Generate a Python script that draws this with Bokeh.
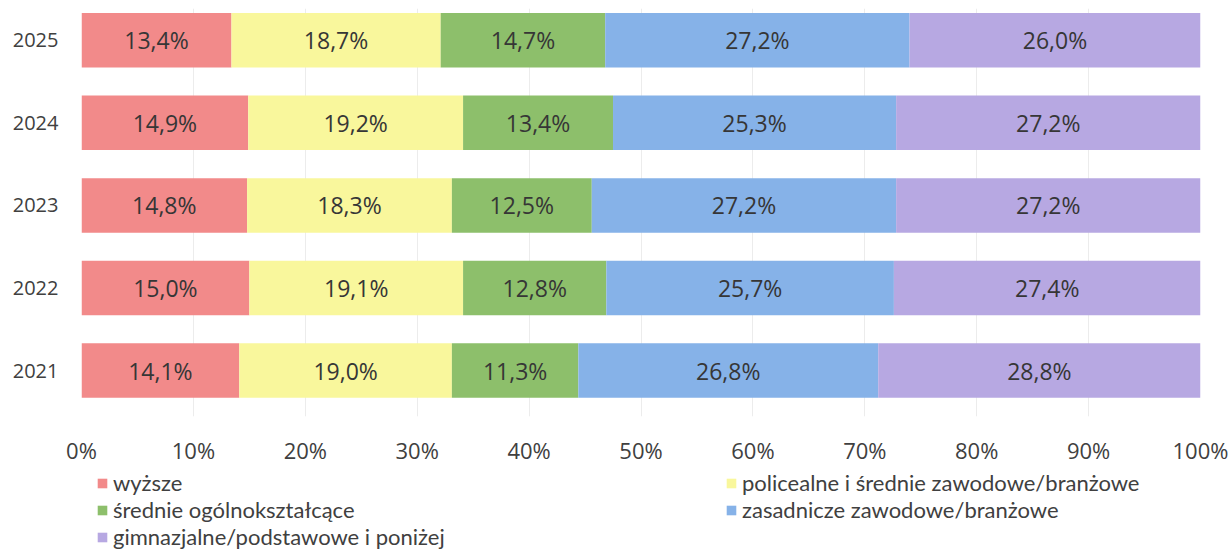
from bokeh.plotting import figure
from bokeh.models import ColumnDataSource, Range1d, FixedTicker, Legend, LegendItem, LabelSet
from bokeh.layouts import column
from bokeh.core.properties import value
from bokeh.embed import file_html
from bokeh.resources import INLINE

years = ["2021", "2022", "2023", "2024", "2025"]
categories = ["wyższe", "policealne i średnie zawodowe/branżowe", "średnie ogólnokształcące",
              "zasadnicze zawodowe/branżowe", "gimnazjalne/podstawowe i poniżej"]
wyzsze = [14.1, 15.0, 14.8, 14.9, 13.4]
policealne = [19.0, 19.1, 18.3, 19.2, 18.7]
srednie = [11.3, 12.8, 12.5, 13.4, 14.7]
zasadnicze = [26.8, 25.7, 27.2, 25.3, 27.2]
gimnazjalne = [28.8, 27.4, 27.2, 27.2, 26.0]
x_ticks = [0, 10, 20, 30, 40, 50, 60, 70, 80, 90, 100]

series = [wyzsze, policealne, srednie, zasadnicze, gimnazjalne]
colors = ["#F28A8A", "#F9F79C", "#8DBF6B", "#86B2E8", "#B7A8E2"]

FONT = "Open Sans"
LEG_FONT = "Lato"
TXT = "#404040"

p = figure(width=1229, height=467, output_backend="svg", toolbar_location=None,
           x_range=Range1d(0, 100), y_range=Range1d(-0.557, 4.385),
           min_border_left=81, min_border_right=29, min_border_top=8, min_border_bottom=42)
p.outline_line_color = None
p.background_fill_color = "white"

ypos = list(range(len(years)))
left = [0.0] * len(years)
for vals, col, name in zip(series, colors, categories):
    right = [l + v for l, v in zip(left, vals)]
    src = ColumnDataSource(dict(y=ypos, left=left, right=right,
                                mid=[(l + r) / 2 for l, r in zip(left, right)],
                                lab=[f"{v:.1f}%".replace(".", ",") for v in vals]))
    p.hbar(y="y", left="left", right="right", height=0.66, source=src,
           fill_color=col, line_color=None)
    p.add_layout(LabelSet(x="mid", y="y", text="lab", source=src, text_align="center",
                          text_baseline="middle", text_font=value(FONT), text_font_size="23px",
                          text_color="#363636"))
    left = right

p.xaxis.ticker = FixedTicker(ticks=x_ticks)
p.xaxis.major_label_overrides = {t: f"{t}%" for t in x_ticks}
p.yaxis.ticker = FixedTicker(ticks=ypos)
p.yaxis.major_label_overrides = {i: y for i, y in enumerate(years)}
for ax in (p.xaxis, p.yaxis):
    ax.axis_line_color = None
    ax.major_tick_line_color = None
    ax.minor_tick_line_color = None
    ax.major_label_text_font = FONT
    ax.major_label_text_color = TXT
p.xaxis.major_label_text_font_size = "22px"
p.yaxis.major_label_text_font_size = "20px"
p.xaxis.major_label_standoff = 12
p.yaxis.major_label_standoff = 17
p.xgrid.ticker = FixedTicker(ticks=x_ticks)
p.xgrid.grid_line_color = "#ECECEC"
p.ygrid.grid_line_color = None

# legend panel (its frame aligns with the chart frame: x 81..1200)
lf = figure(width=1229, height=82, output_backend="svg", toolbar_location=None,
            x_range=Range1d(0, 1), y_range=Range1d(0, 1),
            min_border_left=81, min_border_right=29, min_border_top=0, min_border_bottom=0)
lf.axis.visible = False
lf.grid.visible = False
lf.outline_line_color = None
rd = {}
for col, name in zip(colors, categories):
    # zero-width swatch carriers (invisible in the frame), used only by the legend
    rd[name] = lf.hbar(y=[0.5], left=[0], right=[0], height=0.1,
                       fill_color=col, line_color=None)

common = dict(label_text_font=LEG_FONT, label_text_font_size="22px", label_text_color=TXT,
              glyph_width=12, glyph_height=12, label_standoff=5,
              label_height=20, spacing=0, padding=0, margin=0,
              border_line_color=None, background_fill_alpha=0, orientation="vertical")
leg_left = Legend(items=[LegendItem(label=n, renderers=[rd[n]])
                         for n in (categories[0], categories[2], categories[4])],
                  location=(15, -1), **common)
leg_right = Legend(items=[LegendItem(label=n, renderers=[rd[n]])
                          for n in (categories[1], categories[3])],
                   location=(644, 26), **common)
lf.add_layout(leg_left, "center")
lf.add_layout(leg_right, "center")

layout = column(p, lf, spacing=0)
open("out.html", "w").write(file_html(layout, INLINE))
